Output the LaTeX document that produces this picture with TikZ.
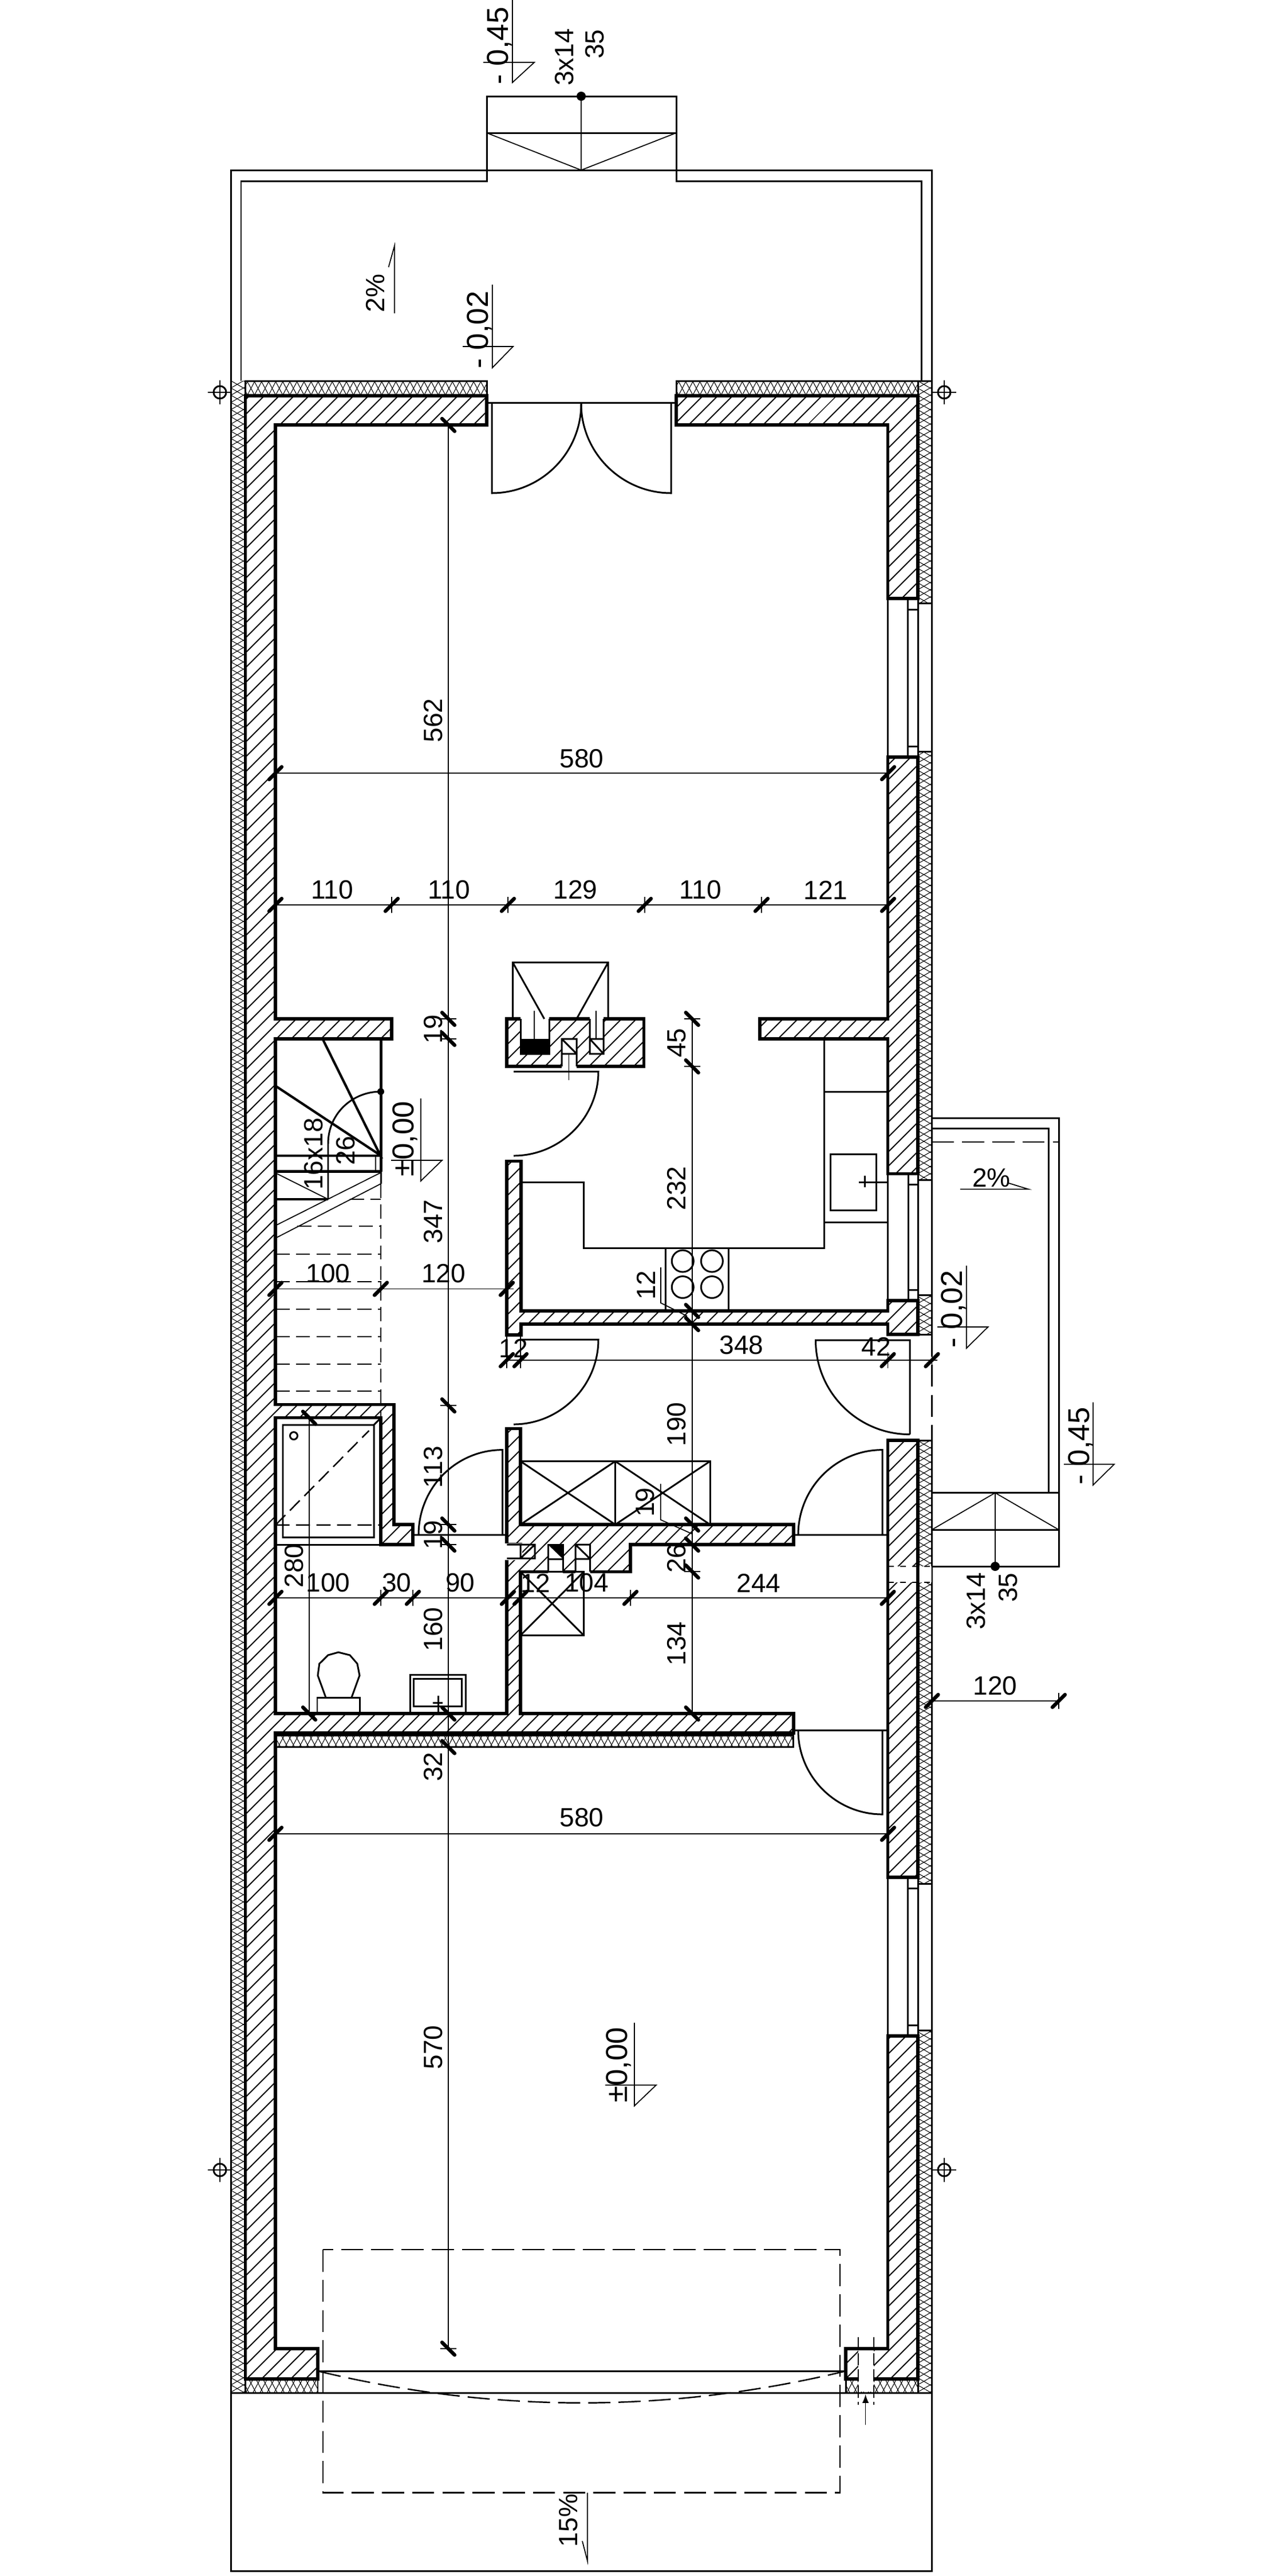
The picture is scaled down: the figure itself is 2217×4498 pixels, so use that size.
\documentclass[tikz,border=0pt]{standalone}
\usepackage{fontspec}
\setmainfont{Liberation Sans}
\usetikzlibrary{patterns.meta}

\begin{document}
\begin{tikzpicture}[x=0.01cm,y=-0.01cm,line join=miter,
	wall line/.style={line width=1.6pt},
	medium line/.style={line width=.85pt},
	thin line/.style={line width=.5pt},
	tick line/.style={line width=1.8pt,line cap=round},
	short dash/.style={line width=.7pt,dash pattern=on 7pt off 3.2pt},
	long dash/.style={line width=.7pt,dash pattern=on 11pt off 4pt},
	hatch/.style={pattern={Lines[angle=45,distance=5.4pt,line width=.6pt]}},
	insul v/.style={medium line,pattern={Lines[angle=30,distance=3.1pt,line width=.3pt]},preaction={pattern={Lines[angle=-30,distance=3.1pt,line width=.3pt]}}},
	insul h/.style={medium line,pattern={Lines[angle=62,distance=3.1pt,line width=.3pt]},preaction={pattern={Lines[angle=-62,distance=3.1pt,line width=.3pt]}}},
	dim text/.style={inner sep=0pt,font=\fontsize{13.1}{15}\selectfont},
	dim text v/.style={dim text,rotate=90},
	level text/.style={inner sep=0pt,rotate=90,font=\fontsize{15}{17}\selectfont},
	h tick/.pic={\draw[thin line] (0,-14) -- (0,14); \draw[tick line] (-11,11) -- (11,-11);},
	v tick/.pic={\draw[thin line] (-14,0) -- (14,0); \draw[tick line] (-11,-11) -- (11,11);},
	axis mark/.pic={\draw[line width=.85pt] (0,0) circle (11); \draw[thin line] (-21,0) -- (21,0) (0,-21) -- (0,21);}]

	\fill[white] (0,0) rectangle (2217,4498);
	\path[use as bounding box] (0,0) rectangle (2217,4498);

	% terrace and steps
	\draw[medium line] (421,665) -- (421,316) -- (850,316) -- (850,168) -- (1181,168) -- (1181,316) -- (1609,316) -- (1609,665);
	\draw[medium line] (403.6,665) -- (403.6,297) -- (1627.5,297) -- (1627.5,665);
	\draw[medium line] (850,232) -- (1181,232);
	\draw[thin line] (850,232) -- (1015,297) -- (1181,232) (1015,168) -- (1015,297);
	\fill (1015,168) circle (8);

	% insulation
	\path[insul v] (403.6,665) rectangle (428.6,4178.4);
	\draw[insul h] (428.6,665) rectangle (850,691);
	\draw[insul h] (1181,665) rectangle (1603,691);
	\draw[insul v] (1603,665) rectangle (1627.5,1053);
	\draw[insul v] (1603,1312) rectangle (1627.5,2060);
	\draw[insul v] (1603,2261) rectangle (1627.5,2330);
	\draw[insul v] (1603,2515) rectangle (1627.5,3289);
	\draw[insul v] (1603,3545) rectangle (1627.5,4178.4);
	\draw[insul h] (428.6,4154) rectangle (555,4178.4);
	\draw[insul h] (1477,4154) rectangle (1603,4178.4);
	\draw[insul h] (481,3030) rectangle (1385.7,3050.5);
	\draw[medium line] (403.6,665) -- (403.6,4178.4);

	% walls
	\draw[wall line,hatch] (428.6,691) -- (850,691) -- (850,742) -- (481,742) -- (481,1779) -- (684,1779) -- (684,1814) -- (481,1814) -- (481,2452.6) -- (688,2452.6) -- (688,2662) -- (721,2662) -- (721,2697) -- (665,2697) -- (665,2475.5) -- (481,2475.5) -- (481,2992) -- (885.3,2992) -- (885.3,2721) -- (909,2721) -- (909,2697) -- (885.3,2697) -- (885.3,2494.4) -- (909,2494.4) -- (909,2662) -- (1385.7,2662) -- (1385.7,2697) -- (1101,2697) -- (1101,2744.4) -- (909,2744.4) -- (909,2992) -- (1385.7,2992) -- (1385.7,3026) -- (481,3026) -- (481,4101) -- (555,4101) -- (555,4154) -- (428.6,4154) -- cycle;
	\draw[wall line,hatch] (1181,691) -- (1603,691) -- (1603,1045) -- (1550.5,1045) -- (1550.5,742) -- (1181,742) -- cycle;
	\draw[wall line,hatch] (1550.5,1322) -- (1603,1322) -- (1603,2049.5) -- (1550.5,2049.5) -- (1550.5,1814) -- (1327,1814) -- (1327,1779) -- (1550.5,1779) -- cycle;
	\draw[wall line,hatch] (885,2027.6) -- (910,2027.6) -- (910,2289) -- (1550.5,2289) -- (1550.5,2271) -- (1603,2271) -- (1603,2330) -- (1550.5,2330) -- (1550.5,2312) -- (910,2312) -- (910,2331) -- (885,2331) -- cycle;
	\draw[wall line,hatch] (1550.5,2515) -- (1603,2515) -- (1603,3278) -- (1550.5,3278) -- cycle;
	\draw[wall line,hatch] (1477,4101) -- (1550.5,4101) -- (1550.5,3555) -- (1603,3555) -- (1603,4154) -- (1477,4154) -- cycle;
	\draw[wall line,hatch] (885.3,1779) rectangle (1124.6,1862);

	% pipe opening in the south wall
	\fill[white] (1553,2735) rectangle (1600,2763) (1605.5,2735) rectangle (1626.5,2763);
	\draw[thin line,dashed] (1550.5,2735) -- (1627.5,2735) (1550.5,2763) -- (1627.5,2763);

	% gap in the garage wall
	\fill[white] (1499,4104) rectangle (1526,4176);
	\draw[thin line,dash pattern=on 6pt off 2pt] (1499,4081) -- (1499,4198.5) (1526,4081) -- (1526,4198.5);
	\draw[thin line,-latex] (1511.6,4234) -- (1511.6,4180.7);

	% flues
	\fill[white] (909,1775) rectangle (959,1840) (981,1814) rectangle (1007,1866) (1030,1775) rectangle (1054,1840);
	\fill (909,1814) rectangle (959,1840);
	\draw[medium line] (909,1779) -- (909,1840) -- (959,1840) -- (959,1779);
	\draw[medium line] (981,1862) -- (981,1814) -- (1007,1814) -- (1007,1862) (981,1840) -- (1007,1840) (981,1814) -- (1007,1840);
	\draw[medium line] (1030,1779) -- (1030,1840) -- (1054,1840) -- (1054,1779) (1030,1814) -- (1054,1814) (1030,1814) -- (1054,1840);
	\draw[thin line] (933,1765) -- (933,1814) (993.5,1840) -- (993.5,1886) (1041,1765) -- (1041,1814);
	\fill[white] (882,2694.5) rectangle (911.5,2723.5);
	\draw[medium line] (885.3,2697) -- (934,2697) -- (934,2721) -- (885.3,2721) (909,2697) -- (909,2721) (909,2721) -- (934,2697);
	\fill[white] (957,2697) rectangle (983,2748) (1005,2697) rectangle (1030.7,2748);
	\fill (957,2697) -- (983,2697) -- (983,2722) -- cycle;
	\draw[medium line] (957,2744.4) -- (957,2697) -- (983,2697) -- (983,2744.4) (957,2722) -- (983,2722);
	\draw[medium line] (1005,2744.4) -- (1005,2697) -- (1030.7,2697) -- (1030.7,2744.4) (1005,2722) -- (1030.7,2722) (1005,2697) -- (1030.7,2722);

	% stove hood
	\draw[medium line] (895.5,1779) -- (895.5,1680.6) -- (1062,1680.6) -- (1062,1779) (895.5,1680.6) -- (950.6,1779) (1062,1680.6) -- (1007,1779);

	% windows
	\draw[medium line] (1550.5,1045) -- (1550.5,1322) (1585,1045) -- (1585,1322) (1603,1045) -- (1603,1322) (1627.5,1053) -- (1627.5,1312) (1585,1064) -- (1603,1064) (1585,1303) -- (1603,1303);
	\draw[medium line] (1550.5,3278) -- (1550.5,3555) (1585,3278) -- (1585,3555) (1603,3278) -- (1603,3555) (1627.5,3289) -- (1627.5,3545) (1585,3297) -- (1603,3297) (1585,3536) -- (1603,3536);
	\draw[medium line] (1550.5,2049.5) -- (1550.5,2271) (1586,2049.5) -- (1586,2271) (1603,2049.5) -- (1603,2271) (1627.5,2060) -- (1627.5,2261) (1586,2068) -- (1603,2068) (1586,2252) -- (1603,2252);

	% doors
	\draw[medium line] (859,705) -- (859,861) .. controls (945,861) and (1015,791) .. (1015,705);
	\draw[medium line] (1172,705) -- (1172,861) .. controls (1086,861) and (1015,791) .. (1015,705);
	\draw[medium line] (850,703.6) -- (1181,703.6);
	\draw[medium line] (897,1871) -- (1045,1871) .. controls (1045,1952) and (978,2018) .. (897,2018);
	\draw[medium line] (910,2339) -- (1045,2339) .. controls (1045,2420) and (978,2487) .. (897,2487);
	\draw[medium line] (1589,2504.6) -- (1589,2340) -- (1424.5,2340) .. controls (1424.5,2431) and (1498,2504.6) .. (1589,2504.6);
	\draw[medium line] (721,2680) -- (885,2680) (877.7,2680) -- (877.7,2531.6) .. controls (796,2531.6) and (731,2598) .. (731,2680);
	\draw[medium line] (1385.7,2680) -- (1550.5,2680) (1541,2680) -- (1541,2531.6) .. controls (1460,2531.6) and (1394,2598) .. (1394,2680);
	\draw[medium line] (1385.7,3021.4) -- (1550.5,3021.4) (1541,3021.4) -- (1541,3168) .. controls (1460,3168) and (1394,3102) .. (1394,3021.4);

	% stairs
	\draw[wall line] (665.4,1814) -- (665.4,2046);
	\draw[medium line] (665.4,2046) -- (665.4,2067);
	\draw[line width=1.2pt] (564.4,1816) -- (664,2017) -- (481,1896);
	\draw[line width=1.2pt] (481,2018) -- (665,2018) (481,2045.4) -- (665,2045.4) (481,2094) -- (573,2094);
	\draw[thin line] (656,2018) -- (656,2045.4) (481,2048) -- (573,2094) (481,2140) -- (664,2048) (481,2162) -- (665,2067);
	\draw[medium line] (665,1906) .. controls (615,1906) and (573,1945) .. (573,1997) -- (573,2094);
	\fill (665,1906) circle (6);
	\draw[short dash] (665,2067) -- (665,2475);
	\draw[short dash] (611,2094) -- (665,2094) (519,2141) -- (665,2141) (481,2190) -- (665,2190) (481,2238) -- (665,2238) (481,2286) -- (665,2286) (481,2334) -- (665,2334) (481,2382) -- (665,2382) (481,2429) -- (665,2429);

	% bathroom
	\draw[medium line] (481,2697) -- (665,2697);
	\draw[medium line] (494,2488) rectangle (653,2684.7) (653,2488) -- (665,2476);
	\draw[medium line] (513,2507) circle (6.5);
	\draw[short dash] (481,2663) -- (644.5,2498) (481,2662.8) -- (665,2662.8);
	\draw[medium line] (569,2964) -- (555,2925.5) -- (557.8,2905) -- (573,2890) -- (591,2885) -- (611,2890) -- (624,2905) -- (628,2925.5) -- (614,2964);
	\draw[medium line] (554,2992) rectangle (628,2964);
	\draw[medium line] (716,2992) rectangle (813.4,2924.5) (722,2931) rectangle (806.7,2979);
	\draw[medium line] (765,2961) -- (765,2992) (755.7,2973) -- (773,2973);

	% wardrobes
	\draw[medium line] (909,2551.5) rectangle (1240,2662) (1074.6,2551.5) -- (1074.6,2662);
	\draw[medium line] (909,2551.5) -- (1074.6,2662) (909,2662) -- (1074.6,2551.5) (1074.6,2551.5) -- (1240,2662) (1074.6,2662) -- (1240,2551.5);
	\draw[medium line] (909,2744.4) rectangle (1019.5,2855.6) (909,2744.4) -- (1019.5,2855.6) (909,2855.6) -- (1019.5,2744.4);

	% kitchen
	\draw[medium line] (910,2064) -- (1019.5,2064) -- (1019.5,2179) -- (1439,2179) -- (1439,1814);
	\draw[medium line] (1439,1906.6) -- (1550.5,1906.6) (1439,2134.7) -- (1550.5,2134.7);
	\draw[medium line] (1450.5,2015) rectangle (1530,2113);
	\draw[medium line] (1499.5,2064) -- (1550.5,2064) (1510,2053) -- (1510,2073);
	\draw[medium line] (1162,2179) -- (1162,2289) (1272.4,2179) -- (1272.4,2289);
	\draw[medium line] (1192.3,2202) circle (19) (1243.4,2202) circle (19) (1192.3,2247.5) circle (19) (1243.4,2247.5) circle (19);

	% balcony
	\draw[medium line] (1627.5,1952) -- (1849,1952) -- (1849,2735) -- (1627.5,2735);
	\draw[medium line] (1627.5,1970) -- (1831,1970) -- (1831,2606.6);
	\draw[long dash] (1627.5,1994) -- (1849,1994) (1627.5,2330) -- (1627.5,2515);
	\draw[medium line] (1627.5,2606.6) -- (1849,2606.6) (1627.5,2671) -- (1849,2671) (1627.5,2515) -- (1627.5,2735);
	\draw[thin line] (1627.5,2671) -- (1738,2606.6) -- (1849,2671) (1738,2606.6) -- (1738,2735);
	\fill (1738,2735) circle (8);

	% garage door and apron
	\draw[long dash] (564,3928) rectangle (1467,4352.5);
	\draw[medium line] (557,4140.6) -- (1475,4140.6);
	\draw[long dash] (557,4140.6) .. controls (863,4214) and (1169,4214) .. (1475,4140.6);
	\draw[line width=1.1pt] (403.6,4178.4) -- (1627.5,4178.4);
	\draw[medium line] (403.6,4178.4) -- (403.6,4489) -- (1627.5,4489) -- (1627.5,4178.4);

	% dimension lines
	\draw[thin line] (783,742) -- (783,4101) (540,2475.5) -- (540,2992) (1208.7,1779) -- (1208.7,2992);
	\draw[thin line] (481,1350) -- (1551,1350) (481,1580) -- (1551,1580) (481,2250.5) -- (897,2250.5) (885,2375) -- (1637,2375) (481,2790) -- (1550.5,2790) (1627.5,2970) -- (1849,2970) (481,3202) -- (1551,3202);
	\draw[thin line] (885,2331) -- (885,2385) (909,2331) -- (909,2385);

	\pic at (783,742) {v tick}; \pic at (783,1779) {v tick}; \pic at (783,1814) {v tick};
	\pic at (783,2454) {v tick}; \pic at (783,2662) {v tick}; \pic at (783,2697) {v tick};
	\pic at (783,2992) {v tick}; \pic at (783,3050.5) {v tick}; \pic at (783,4101) {v tick};
	\pic at (540,2475.5) {v tick}; \pic at (540,2992) {v tick};
	\pic at (1208.7,1779) {v tick}; \pic at (1208.7,1862) {v tick}; \pic at (1208.7,2289) {v tick};
	\pic at (1208.7,2312) {v tick}; \pic at (1208.7,2662) {v tick}; \pic at (1208.7,2697) {v tick};
	\pic at (1208.7,2744) {v tick}; \pic at (1208.7,2992) {v tick};

	\pic at (481,1350) {h tick}; \pic at (1551,1350) {h tick};
	\pic at (481,1580) {h tick}; \pic at (684,1580) {h tick}; \pic at (887,1580) {h tick};
	\pic at (1126,1580) {h tick}; \pic at (1330,1580) {h tick}; \pic at (1551,1580) {h tick};
	\pic at (481,2250.5) {h tick}; \pic at (665,2250.5) {h tick}; \pic at (885,2250.5) {h tick};
	\pic at (885,2375) {h tick}; \pic at (909,2375) {h tick}; \pic at (1550.5,2375) {h tick}; \pic at (1627.5,2375) {h tick};
	\pic at (481,2790) {h tick}; \pic at (665,2790) {h tick}; \pic at (721,2790) {h tick}; \pic at (887,2790) {h tick};
	\pic at (909,2790) {h tick}; \pic at (1101,2790) {h tick}; \pic at (1550.5,2790) {h tick};
	\pic at (1627.5,2970) {h tick}; \pic at (1849,2970) {h tick};
	\pic at (481,3202) {h tick}; \pic at (1551,3202) {h tick};

	% level marks
	\draw[thin line] (895,0) -- (895,144) -- (933,109) -- (844,109);
	\draw[thin line] (860,497) -- (860,642) -- (896,605) -- (808,605);
	\draw[thin line] (735,1918) -- (735,2062) -- (772,2026) -- (683,2026);
	\draw[thin line] (1688,2210) -- (1688,2354) -- (1725.5,2317) -- (1637,2317);
	\draw[thin line] (1909,2448.5) -- (1909,2593) -- (1946,2556.6) -- (1858,2556.6);
	\draw[thin line] (1108,3532) -- (1108,3677) -- (1146,3640.7) -- (1057,3640.7);

	% slope marks and leader lines
	\draw[thin line] (678.6,466.5) -- (689,429) -- (689,547);
	\draw[thin line] (1677,2076.5) -- (1796.4,2076.5) -- (1762,2066);
	\draw[thin line] (1026,4352.5) -- (1026,4472) -- (1017,4437);
	\draw[thin line] (1154,2213) -- (1154,2275) -- (1200,2298);
	\draw[thin line] (1153.7,2591) -- (1153.7,2653.6) -- (1208,2678);

	% axis marks
	\pic at (384,685) {axis mark}; \pic at (1649,685) {axis mark};
	\pic at (384,3789) {axis mark}; \pic at (1649,3789) {axis mark};

	% texts
	\node[level text] (top level) at (872,80) {- 0,45};
	\node[level text] (door level) at (837,576) {- 0,02};
	\node[level text] (stair level) at (707,1989) {±0,00};
	\node[level text] (balcony level) at (1665,2286) {- 0,02};
	\node[level text] (south level) at (1887,2525) {- 0,45};
	\node[level text] (floor level) at (1080,3606) {±0,00};

	\node[dim text v] (top treads) at (986,100) {3x14};
	\node[dim text v] (top rise) at (1039,77) {35};
	\node[dim text v] (south treads) at (1705,2796) {3x14};
	\node[dim text v] (south rise) at (1760.7,2772) {35};
	\node[dim text v] (stair treads) at (547.5,2015) {16x18};
	\node[dim text v] (stair rise) at (604,2009) {26};
	\node[dim text v] (terrace slope) at (656,512) {2\%};
	\node[dim text v] (apron slope) at (993,4401) {15\%};
	\node[dim text] (balcony slope) at (1731.6,2056.6) {2\%};

	\node[dim text] (width a) at (1016,1325) {580};
	\node[dim text] (bay a) at (580,1554) {110};
	\node[dim text] (bay b) at (784,1554) {110};
	\node[dim text] (bay c) at (1005,1554) {129};
	\node[dim text] (bay d) at (1223,1554) {110};
	\node[dim text] (bay e) at (1442,1554) {121};
	\node[dim text] (stair width) at (573,2224) {100};
	\node[dim text] (hall width) at (774.6,2224) {120};
	\node[dim text] (kitchen wall) at (897,2354) {12};
	\node[dim text] (kitchen width) at (1295,2349) {348};
	\node[dim text] (door width) at (1530,2351) {42};
	\node[dim text] (bath a) at (573,2764) {100};
	\node[dim text] (bath b) at (693,2764) {30};
	\node[dim text] (bath c) at (803.7,2764) {90};
	\node[dim text] (bath d) at (935,2764) {12};
	\node[dim text] (bath e) at (1024.6,2764) {104};
	\node[dim text] (bath f) at (1325,2764) {244};
	\node[dim text] (outside width) at (1738,2944) {120};
	\node[dim text] (width b) at (1016,3174) {580};

	\node[dim text v] (depth a) at (757,1258) {562};
	\node[dim text v] (depth b) at (757,1797) {19};
	\node[dim text v] (depth c) at (757,2133) {347};
	\node[dim text v] (depth d) at (757,2562) {113};
	\node[dim text v] (depth e) at (757,2680) {19};
	\node[dim text v] (depth f) at (757,2845) {160};
	\node[dim text v] (depth g) at (757,3085) {32};
	\node[dim text v] (depth h) at (757,3575) {570};
	\node[dim text v] (bath depth) at (514,2734) {280};
	\node[dim text v] (run a) at (1181.6,1821) {45};
	\node[dim text v] (run b) at (1181.6,2075) {232};
	\node[dim text v] (run c) at (1128,2244) {12};
	\node[dim text v] (run d) at (1181.6,2487) {190};
	\node[dim text v] (run e) at (1126.6,2623) {19};
	\node[dim text v] (run f) at (1181.6,2721) {26};
	\node[dim text v] (run g) at (1181.6,2870) {134};

\end{tikzpicture}
\end{document}
